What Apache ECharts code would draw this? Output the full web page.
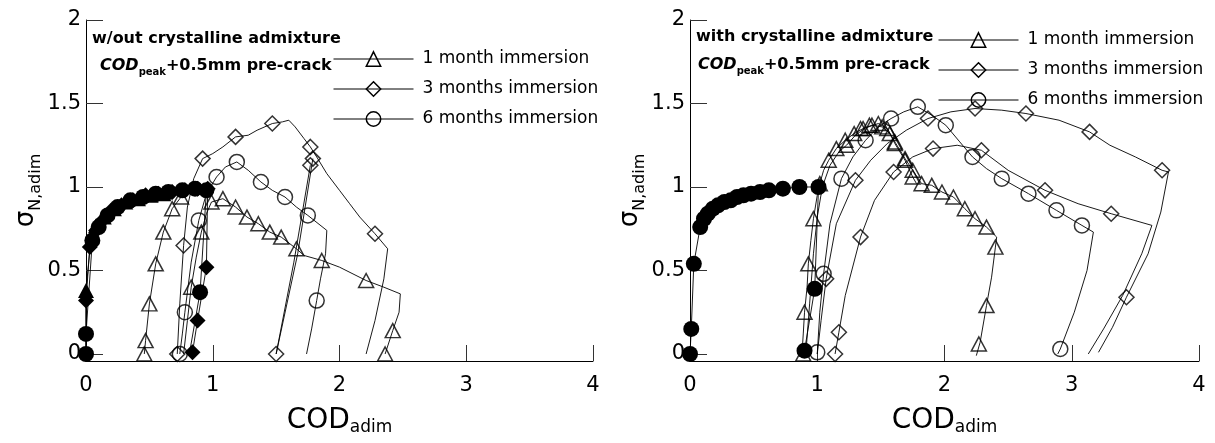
<!DOCTYPE html>
<html>
<head>
<meta charset="utf-8">
<script src="https://cdn.jsdelivr.net/npm/echarts@6/dist/echarts.min.js"></script>
<style>
  html, body { margin: 0; padding: 0; background: #fff; }
  #chart { width: 1215px; height: 443px; }
</style>
</head>
<body>
<div id="chart"></div>
<script>
// ---- Axis ticks ----
const xTicks = [0, 1, 2, 3, 4];
const yTicks = [0, 0.5, 1, 1.5, 2];

// ---- Legend ----
const legendNames = ['1 month immersion', '3 months immersion', '6 months immersion'];

// ---- Panel (a): without crystalline admixture ----
// pre-cracking (filled markers)
const L_preCir_path = [[0,0],[0,0.12],[0.05,0.68],[0.1,0.76],[0.17,0.83],[0.25,0.88],[0.35,0.92],[0.45,0.94],[0.55,0.96],[0.65,0.97],[0.76,0.98],[0.86,0.99],[0.95,0.98],[0.90,0.37],[0.82,0.02]];
const L_preCir_mark = [[0,0],[0,0.12],[0.05,0.68],[0.1,0.76],[0.17,0.83],[0.25,0.88],[0.35,0.92],[0.45,0.94],[0.55,0.96],[0.65,0.97],[0.76,0.98],[0.86,0.99],[0.95,0.98],[0.90,0.37]];
const L_preDia_path = [[0,0],[0,0.32],[0.03,0.64],[0.08,0.74],[0.13,0.80],[0.2,0.86],[0.28,0.89],[0.37,0.92],[0.47,0.95],[0.57,0.96],[0.68,0.97],[0.78,0.98],[0.88,0.99],[0.96,0.99],[0.95,0.52],[0.88,0.20],[0.84,0.01]];
const L_preDia_mark = [[0,0.32],[0.03,0.64],[0.08,0.74],[0.13,0.80],[0.2,0.86],[0.28,0.89],[0.37,0.92],[0.47,0.95],[0.57,0.96],[0.68,0.97],[0.78,0.98],[0.88,0.99],[0.96,0.99],[0.95,0.52],[0.88,0.20],[0.84,0.01]];
const L_preTri_path = [[0,0],[0,0.38],[0.04,0.70],[0.08,0.77],[0.14,0.82],[0.22,0.87],[0.31,0.91],[0.41,0.93],[0.51,0.95],[0.61,0.96],[0.72,0.97]];
const L_preTri_mark = [[0,0.38],[0.08,0.77],[0.14,0.82],[0.22,0.87],[0.31,0.91],[0.41,0.93],[0.51,0.95],[0.61,0.96]];
// 1 month
const L_tri1_path = [[0.46,0.0],[0.47,0.08],[0.50,0.30],[0.55,0.54],[0.61,0.73],[0.68,0.87],[0.75,0.94],[0.80,0.95]];
const L_tri1_mark = [[0.46,0.0],[0.47,0.08],[0.50,0.30],[0.55,0.54],[0.61,0.73],[0.68,0.87],[0.75,0.94]];
const L_tri2_path = [[0.77,0.0],[0.80,0.2],[0.83,0.40],[0.87,0.58],[0.91,0.73],[0.95,0.84],[0.99,0.91],[1.08,0.93],[1.18,0.88],[1.27,0.82],[1.36,0.78],[1.45,0.73],[1.54,0.70],[1.66,0.63],[1.72,0.59],[1.86,0.56],[2.0,0.52],[2.21,0.44],[2.35,0.40],[2.48,0.36],[2.47,0.25],[2.42,0.14],[2.36,0.0]];
const L_tri2_mark = [[0.83,0.40],[0.91,0.73],[0.99,0.91],[1.08,0.93],[1.18,0.88],[1.27,0.82],[1.36,0.78],[1.45,0.73],[1.54,0.70],[1.66,0.63],[1.86,0.56],[2.21,0.44],[2.42,0.14],[2.36,0.0]];
// 3 months
const L_dia1_path = [[0.72,0.0],[0.74,0.3],[0.77,0.65],[0.80,0.88],[0.85,1.05],[0.92,1.17],[1.0,1.20],[1.08,1.24],[1.18,1.30],[1.28,1.31],[1.35,1.34],[1.47,1.38],[1.55,1.39],[1.60,1.40],[1.65,1.36],[1.72,1.29],[1.77,1.24],[1.82,1.18],[1.90,1.08],[2.0,0.98],[2.08,0.90],[2.16,0.82],[2.28,0.72],[2.38,0.63],[2.35,0.45],[2.28,0.2],[2.21,0.0]];
const L_dia1_mark = [[0.72,0.0],[0.77,0.65],[0.92,1.17],[1.18,1.30],[1.47,1.38],[1.77,1.24],[2.28,0.72]];
const L_dia2_path = [[1.77,1.13],[1.64,0.55],[1.50,0.0],[1.67,0.6],[1.79,1.17]];
const L_dia2_mark = [[1.50,0.0],[1.77,1.13],[1.79,1.17]];
// 6 months
const L_cir_path = [[0.74,0.0],[0.76,0.12],[0.78,0.25],[0.83,0.55],[0.89,0.80],[0.95,0.96],[1.03,1.06],[1.10,1.12],[1.19,1.15],[1.28,1.10],[1.38,1.03],[1.47,0.98],[1.57,0.94],[1.66,0.88],[1.75,0.83],[1.90,0.74],[1.89,0.6],[1.85,0.45],[1.82,0.32],[1.78,0.15],[1.74,0.0]];
const L_cir_mark = [[0.74,0.0],[0.78,0.25],[0.89,0.80],[1.03,1.06],[1.19,1.15],[1.38,1.03],[1.57,0.94],[1.75,0.83],[1.82,0.32]];

// ---- Panel (b): with crystalline admixture ----
const R_preCir_path = [[0,0],[0.01,0.15],[0.03,0.54],[0.08,0.76],[0.11,0.81],[0.14,0.84],[0.18,0.87],[0.22,0.89],[0.27,0.91],[0.32,0.92],[0.37,0.94],[0.42,0.95],[0.48,0.96],[0.55,0.97],[0.62,0.98],[0.73,0.99],[0.86,1.0],[1.01,1.0],[0.98,0.39],[0.90,0.02]];
const R_preCir_mark = R_preCir_path;
// 1 month
const R_tri1_path = [[0.91,0.0],[0.94,0.3],[0.97,0.6],[1.0,0.82],[1.04,1.0],[1.1,1.13],[1.17,1.21],[1.23,1.25],[1.3,1.31],[1.37,1.35],[1.44,1.37],[1.48,1.38],[1.55,1.35],[1.61,1.27],[1.65,1.22],[1.69,1.17],[1.75,1.10],[1.82,1.02],[1.90,1.01],[1.98,0.97],[2.07,0.94],[2.16,0.87],[2.24,0.81],[2.33,0.76],[2.41,0.70],[2.40,0.64],[2.37,0.46],[2.33,0.29],[2.28,0.07],[2.25,-0.01]];
const R_tri1_mark = [[1.23,1.25],[1.34,1.35],[1.41,1.37],[1.48,1.38],[1.55,1.35],[1.61,1.27],[1.69,1.17],[1.75,1.10],[1.82,1.02],[1.90,1.01],[1.98,0.97],[2.07,0.94],[2.16,0.87],[2.24,0.81],[2.33,0.76],[2.40,0.64],[2.33,0.29],[2.27,0.06]];
const R_tri2_path = [[0.88,0.0],[0.89,0.12],[0.90,0.25],[0.92,0.40],[0.93,0.54],[0.95,0.68],[0.97,0.81],[1.0,0.95],[1.02,1.02],[1.05,1.10],[1.09,1.16],[1.15,1.23],[1.22,1.28],[1.29,1.32],[1.36,1.35],[1.43,1.37],[1.51,1.36],[1.57,1.32],[1.61,1.26],[1.65,1.21],[1.69,1.16],[1.75,1.06],[1.78,1.02]];
const R_tri2_mark = [[0.89,0.0],[0.90,0.25],[0.93,0.54],[0.97,0.81],[1.02,1.02],[1.09,1.16],[1.15,1.23],[1.22,1.28],[1.29,1.32],[1.36,1.35],[1.43,1.37],[1.51,1.36],[1.57,1.32],[1.61,1.26],[1.69,1.16],[1.75,1.06]];
// 3 months
const R_dia1_path = [[1.0,0.0],[1.03,0.2],[1.07,0.45],[1.15,0.78],[1.30,1.04],[1.42,1.16],[1.55,1.26],[1.7,1.34],[1.87,1.41],[2.05,1.45],[2.24,1.47],[2.45,1.46],[2.64,1.44],[2.9,1.40],[3.14,1.33],[3.3,1.25],[3.5,1.18],[3.71,1.10],[3.76,1.09],[3.70,0.85],[3.60,0.6],[3.43,0.34],[3.32,0.16],[3.21,0.01]];
const R_dia1_mark = [[1.07,0.45],[1.30,1.04],[1.87,1.41],[2.24,1.47],[2.64,1.44],[3.14,1.33],[3.71,1.10],[3.43,0.34]];
const R_dia2_path = [[1.14,0.0],[1.17,0.13],[1.22,0.35],[1.34,0.70],[1.45,0.92],[1.60,1.09],[1.75,1.18],[1.91,1.23],[2.1,1.25],[2.29,1.22],[2.5,1.10],[2.79,0.98],[3.05,0.90],[3.31,0.84],[3.63,0.77],[3.55,0.6],[3.40,0.35],[3.25,0.15],[3.13,0.0]];
const R_dia2_mark = [[1.14,0.0],[1.17,0.13],[1.34,0.70],[1.60,1.09],[1.91,1.23],[2.29,1.22],[2.79,0.98],[3.31,0.84]];
// 6 months
const R_cir_path = [[1.0,0.0],[1.02,0.25],[1.05,0.48],[1.1,0.78],[1.19,1.05],[1.28,1.18],[1.38,1.28],[1.48,1.36],[1.58,1.41],[1.68,1.45],[1.79,1.48],[1.9,1.43],[2.01,1.37],[2.12,1.27],[2.22,1.18],[2.33,1.11],[2.45,1.05],[2.66,0.96],[2.88,0.86],[3.08,0.77],[3.17,0.73],[3.12,0.5],[3.02,0.25],[2.91,0.03],[2.89,0.0]];
const R_cir_mark = [[1.0,0.01],[1.05,0.48],[1.19,1.05],[1.38,1.28],[1.58,1.41],[1.79,1.48],[2.01,1.37],[2.22,1.18],[2.45,1.05],[2.66,0.96],[2.88,0.86],[3.08,0.77],[2.91,0.03]];

const FONT = 'DejaVu Sans';
const INK = '#000';
const SYM = { tri: 'triangle', dia: 'diamond', cir: 'circle' };
const SIZE = { tri: [15, 14], dia: [15, 15], cir: 15 };
const SIZE_FILLED = { tri: [16, 15], dia: [16, 16], cir: 16 };

function curve(grid, path, marks, kind, filled) {
  return [
    {
      type: 'line', xAxisIndex: grid, yAxisIndex: grid, data: path,
      symbol: 'none', clip: false, z: 2, silent: true,
      lineStyle: { color: INK, width: 0.9 }
    },
    {
      type: 'scatter', xAxisIndex: grid, yAxisIndex: grid, data: marks,
      symbol: SYM[kind], symbolSize: filled ? SIZE_FILLED[kind] : SIZE[kind],
      clip: false, z: 3, silent: true,
      itemStyle: filled
        ? { color: INK, opacity: 1 }
        : { color: 'rgba(0,0,0,0)', borderColor: INK, borderWidth: 1.5 }
    }
  ];
}

const series = [].concat(
  curve(0, L_preTri_path, L_preTri_mark, 'tri', true),
  curve(0, L_preDia_path, L_preDia_mark, 'dia', true),
  curve(0, L_preCir_path, L_preCir_mark, 'cir', true),
  curve(0, L_tri1_path, L_tri1_mark, 'tri', false),
  curve(0, L_tri2_path, L_tri2_mark, 'tri', false),
  curve(0, L_dia1_path, L_dia1_mark, 'dia', false),
  curve(0, L_dia2_path, L_dia2_mark, 'dia', false),
  curve(0, L_cir_path, L_cir_mark, 'cir', false),
  curve(1, R_preCir_path, R_preCir_mark, 'cir', true),
  curve(1, R_tri1_path, R_tri1_mark, 'tri', false),
  curve(1, R_tri2_path, R_tri2_mark, 'tri', false),
  curve(1, R_dia1_path, R_dia1_mark, 'dia', false),
  curve(1, R_dia2_path, R_dia2_mark, 'dia', false),
  curve(1, R_cir_path, R_cir_mark, 'cir', false)
);

// legend entries: empty series carrying the line + open marker style
['tri', 'dia', 'cir'].forEach((k, i) => {
  series.push({
    type: 'line', name: legendNames[i], xAxisIndex: 0, yAxisIndex: 0, data: [],
    symbol: SYM[k], symbolSize: 15,
    itemStyle: { color: 'rgba(0,0,0,0)', borderColor: INK, borderWidth: 1.5 },
    lineStyle: { color: INK, width: 1 }
  });
});

function xAxis(i) {
  return {
    gridIndex: i, type: 'value', min: 0, max: 4, interval: 1,
    axisLine: { show: true, onZero: false, lineStyle: { color: INK, width: 1 } },
    axisTick: { show: true, inside: true, length: 16, lineStyle: { color: '#333', width: 1 } },
    axisLabel: { fontSize: 21, color: INK, margin: 14, fontFamily: FONT, customValues: xTicks },
    splitLine: { show: false },
    name: '{m|COD}{s|adim}', nameLocation: 'middle', nameGap: 46,
    nameTextStyle: {
      rich: {
        m: { fontSize: 28, fontFamily: FONT, color: INK, lineHeight: 29, verticalAlign: 'top' },
        s: { fontSize: 17, fontFamily: FONT, color: INK, lineHeight: 17, verticalAlign: 'bottom' }
      }
    }
  };
}
function yAxis(i) {
  return {
    gridIndex: i, type: 'value', min: -0.042, max: 2,
    axisLine: { show: true, onZero: false, lineStyle: { color: INK, width: 1 } },
    axisTick: { show: true, inside: true, length: 17, customValues: yTicks, lineStyle: { color: '#333', width: 1 } },
    axisLabel: { fontSize: 21, color: INK, margin: 5, fontFamily: FONT, customValues: yTicks },
    splitLine: { show: false },
    name: '{m|σ}{s|N,adim}', nameLocation: 'middle', nameGap: 42, nameRotate: 90,
    nameTextStyle: {
      rich: {
        m: { fontSize: 26, fontFamily: FONT, color: INK, lineHeight: 30, verticalAlign: 'top' },
        s: { fontSize: 16, fontFamily: FONT, color: INK, lineHeight: 16, verticalAlign: 'bottom' }
      }
    }
  };
}

function legend(left, top) {
  return {
    data: legendNames, left: left, top: top, orient: 'vertical',
    itemWidth: 80, itemHeight: 18, itemGap: 12, selectedMode: false,
    itemStyle: { borderWidth: 1.5 },
    lineStyle: { width: 1 },
    textStyle: { fontSize: 17, fontFamily: FONT, color: INK, lineHeight: 18, padding: [0, 0, 0, 4] }
  };
}

const richAnn = {
  b: { fontSize: 16, fontWeight: 'bold', fontFamily: FONT, fill: INK, lineHeight: 19, verticalAlign: 'top' },
  c: { fontSize: 16, fontWeight: 'bold', fontStyle: 'italic', fontFamily: FONT, fill: INK, lineHeight: 19, verticalAlign: 'top' },
  p: { fontSize: 10, fontWeight: 'bold', fontFamily: FONT, fill: INK, lineHeight: 10, verticalAlign: 'bottom' }
};
function annotation(x, y, first, x2, y2) {
  return [
    { type: 'text', left: x, top: y, silent: true,
      style: { text: '{b|' + first + '}', rich: richAnn } },
    { type: 'text', left: x2, top: y2, silent: true,
      style: { text: '{c|COD}{p|peak}{b|+0.5mm pre-crack}', rich: richAnn } }
  ];
}

const option = {
  animation: false,
  backgroundColor: '#fff',
  grid: [
    { left: 86, top: 20, width: 507, height: 341 },
    { left: 690, top: 20, width: 509, height: 341 }
  ],
  xAxis: [xAxis(0), xAxis(1)],
  yAxis: [yAxis(0), yAxis(1)],
  legend: [legend(328, 45), legend(933, 26)],
  graphic: [].concat(
    annotation(92, 31, 'w/out crystalline admixture', 100, 58),
    annotation(696, 29, 'with crystalline admixture', 698, 57)
  ),
  series: series
};

const chart = echarts.init(document.getElementById('chart'), null, { renderer: 'canvas' });
chart.setOption(option);
</script>
</body>
</html>
